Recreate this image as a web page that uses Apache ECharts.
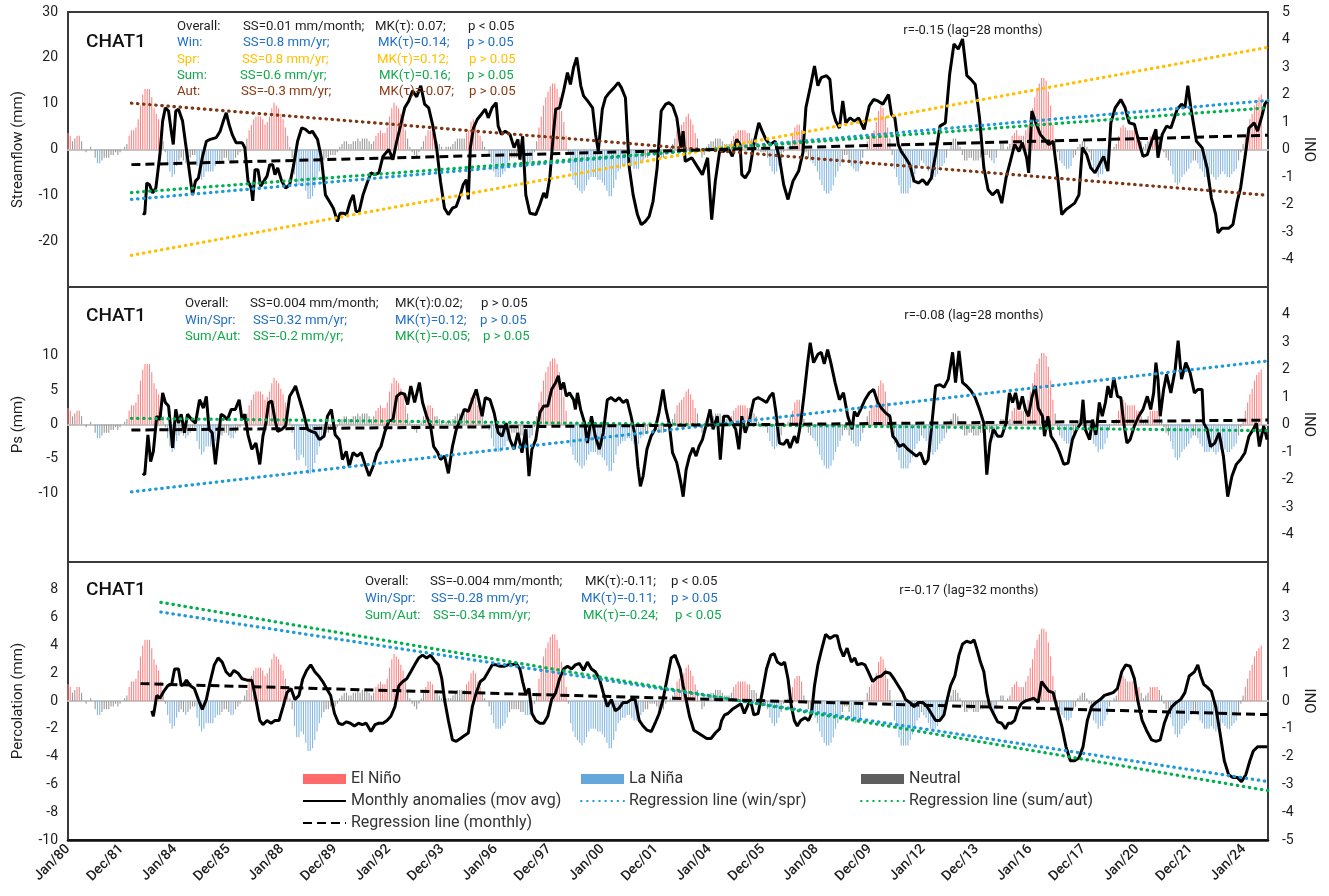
<!DOCTYPE html>
<html>
<head>
<meta charset="utf-8">
<title>CHAT1 – Streamflow, Ps and Percolation anomalies vs ONI</title>
<script src="https://cdn.jsdelivr.net/npm/echarts@6/dist/echarts.min.js"></script>
<style>
  html, body { margin: 0; padding: 0; background: #ffffff; }
  #chart { width: 1329px; height: 896px; }
</style>
</head>
<body>
<div id="chart"></div>
<script>
// ---------------------------------------------------------------------------
// Data (x = months since Jan 1980)
// ---------------------------------------------------------------------------
const siteName = 'CHAT1';

const tickLabels = ['Jan/80', 'Dec/81', 'Jan/84', 'Dec/85', 'Jan/88', 'Dec/89', 'Jan/92', 'Dec/93',
  'Jan/96', 'Dec/97', 'Jan/00', 'Dec/01', 'Jan/04', 'Dec/05', 'Jan/08', 'Dec/09', 'Jan/12',
  'Dec/13', 'Jan/16', 'Dec/17', 'Jan/20', 'Dec/21', 'Jan/24'];

// Oceanic Niño Index, one value per month from Jan 1980
const oni = [
  0.6, 0.5, 0.3, 0.4, 0.5, 0.5, 0.3, 0.0, -0.1, 0.0, 0.1, 0.0,          // 1980
  -0.3, -0.5, -0.5, -0.4, -0.3, -0.3, -0.3, -0.2, -0.2, -0.1, -0.2, -0.1, // 1981
  0.0, 0.1, 0.2, 0.5, 0.7, 0.7, 0.8, 1.1, 1.6, 2.0, 2.2, 2.2,           // 1982
  2.2, 1.9, 1.5, 1.3, 1.1, 0.7, 0.3, -0.1, -0.5, -0.8, -1.0, -0.9,      // 1983
  -0.6, -0.4, -0.3, -0.4, -0.5, -0.4, -0.3, -0.2, -0.2, -0.6, -0.9, -1.1, // 1984
  -1.0, -0.8, -0.8, -0.8, -0.8, -0.6, -0.5, -0.5, -0.4, -0.3, -0.3, -0.4, // 1985
  -0.5, -0.5, -0.3, -0.2, -0.1, 0.0, 0.2, 0.4, 0.7, 0.9, 1.1, 1.2,      // 1986
  1.2, 1.2, 1.1, 0.9, 1.0, 1.2, 1.5, 1.7, 1.6, 1.5, 1.3, 1.1,           // 1987
  0.8, 0.5, 0.1, -0.3, -0.9, -1.3, -1.3, -1.1, -1.2, -1.5, -1.8, -1.8,  // 1988
  -1.7, -1.4, -1.1, -0.8, -0.6, -0.4, -0.3, -0.3, -0.2, -0.2, -0.2, -0.1, // 1989
  0.1, 0.2, 0.3, 0.3, 0.2, 0.2, 0.3, 0.3, 0.4, 0.3, 0.4, 0.4,           // 1990
  0.4, 0.3, 0.2, 0.3, 0.5, 0.6, 0.7, 0.6, 0.6, 0.8, 1.2, 1.5,           // 1991
  1.7, 1.6, 1.5, 1.3, 1.1, 0.7, 0.4, 0.1, -0.1, -0.2, -0.3, -0.1,       // 1992
  0.1, 0.3, 0.5, 0.7, 0.7, 0.6, 0.3, 0.3, 0.2, 0.1, 0.0, 0.1,           // 1993
  0.1, 0.1, 0.2, 0.3, 0.4, 0.4, 0.4, 0.4, 0.6, 0.7, 1.0, 1.1,           // 1994
  1.0, 0.7, 0.5, 0.3, 0.1, 0.0, -0.2, -0.5, -0.8, -1.0, -1.0, -1.0,     // 1995
  -0.9, -0.8, -0.6, -0.4, -0.3, -0.3, -0.3, -0.3, -0.4, -0.4, -0.5, -0.5, // 1996
  -0.5, -0.4, -0.1, 0.3, 0.8, 1.2, 1.6, 1.9, 2.1, 2.3, 2.4, 2.4,        // 1997
  2.2, 1.9, 1.4, 1.0, 0.5, -0.1, -0.8, -1.1, -1.3, -1.4, -1.5, -1.6,    // 1998
  -1.5, -1.3, -1.1, -1.0, -1.0, -1.0, -1.1, -1.1, -1.2, -1.3, -1.5, -1.7, // 1999
  -1.7, -1.4, -1.1, -0.8, -0.7, -0.6, -0.6, -0.5, -0.5, -0.6, -0.7, -0.7, // 2000
  -0.7, -0.5, -0.4, -0.3, -0.3, -0.1, -0.1, -0.1, -0.2, -0.3, -0.3, -0.3, // 2001
  -0.1, 0.0, 0.1, 0.2, 0.4, 0.7, 0.8, 0.9, 1.0, 1.2, 1.3, 1.1,          // 2002
  0.9, 0.6, 0.4, 0.0, -0.3, -0.2, 0.1, 0.2, 0.3, 0.3, 0.4, 0.4,         // 2003
  0.4, 0.3, 0.2, 0.2, 0.2, 0.3, 0.5, 0.6, 0.7, 0.7, 0.7, 0.7,           // 2004
  0.6, 0.6, 0.4, 0.4, 0.3, 0.1, -0.1, -0.1, -0.1, -0.3, -0.6, -0.8,     // 2005
  -0.9, -0.8, -0.6, -0.4, -0.1, 0.0, 0.1, 0.3, 0.5, 0.8, 0.9, 0.9,      // 2006
  0.7, 0.2, -0.1, -0.3, -0.4, -0.5, -0.6, -0.8, -1.1, -1.3, -1.5, -1.6, // 2007
  -1.6, -1.5, -1.3, -1.0, -0.8, -0.6, -0.4, -0.2, -0.2, -0.4, -0.6, -0.7, // 2008
  -0.8, -0.8, -0.6, -0.3, 0.0, 0.3, 0.5, 0.6, 0.7, 1.0, 1.4, 1.6,       // 2009
  1.5, 1.2, 0.8, 0.4, -0.2, -0.7, -1.0, -1.3, -1.6, -1.6, -1.6, -1.6,   // 2010
  -1.4, -1.2, -0.9, -0.7, -0.6, -0.4, -0.5, -0.6, -0.8, -1.0, -1.1, -1.0, // 2011
  -0.9, -0.7, -0.6, -0.5, -0.3, 0.0, 0.2, 0.4, 0.4, 0.3, 0.1, -0.2,     // 2012
  -0.4, -0.4, -0.3, -0.3, -0.4, -0.4, -0.4, -0.3, -0.3, -0.2, -0.2, -0.3, // 2013
  -0.4, -0.5, -0.3, 0.0, 0.2, 0.2, 0.0, 0.1, 0.2, 0.5, 0.6, 0.7,        // 2014
  0.5, 0.5, 0.5, 0.7, 0.9, 1.2, 1.5, 1.9, 2.2, 2.4, 2.6, 2.6,           // 2015
  2.5, 2.1, 1.6, 0.9, 0.4, -0.1, -0.4, -0.5, -0.6, -0.7, -0.7, -0.6,    // 2016
  -0.3, -0.2, 0.1, 0.2, 0.3, 0.3, 0.1, -0.1, -0.4, -0.7, -0.8, -1.0,    // 2017
  -0.9, -0.9, -0.7, -0.5, -0.2, 0.0, 0.1, 0.2, 0.5, 0.8, 0.9, 0.8,      // 2018
  0.7, 0.7, 0.7, 0.7, 0.5, 0.5, 0.3, 0.1, 0.2, 0.3, 0.5, 0.5,           // 2019
  0.5, 0.5, 0.4, 0.2, -0.1, -0.3, -0.4, -0.6, -0.9, -1.2, -1.3, -1.2,   // 2020
  -1.0, -0.9, -0.8, -0.7, -0.5, -0.4, -0.4, -0.5, -0.7, -0.8, -1.0, -1.0, // 2021
  -1.0, -0.9, -1.0, -1.1, -1.0, -0.9, -0.8, -0.9, -1.0, -1.0, -0.9, -0.8, // 2022
  -0.7, -0.4, -0.1, 0.2, 0.5, 0.8, 1.1, 1.3, 1.6, 1.8, 1.9, 2.0         // 2023
];

// Streamflow monthly anomalies, moving average (mm), lagged 28 months
const streamflow = [
  [33,-13.9],[33.9,-14.1],[34.8,-7.3],[36,-7.7],[37.4,-9.5],[38.8,-8.4],[40.6,-1.1],[41.8,6.2],[43,9.1],[44.4,8.4],
  [45.8,3.3],[46.5,1.1],[47.6,8.4],[48.8,8.8],[50.6,6.2],[51.8,1.8],[53.2,-3.3],[55,-9.9],[56.3,-6.9],[57.6,-6.2],
  [59.3,-1.8],[61.1,1.8],[62.8,2.2],[65.5,2.6],[67.2,4.0],[68.6,6.2],[69.9,8.0],[71.1,5.5],[72.5,3.3],[74.2,1.5],
  [76.9,1.5],[78.1,0.4],[79.5,-6.9],[80.9,-8.4],[81.6,-11.2],[82.6,-4.4],[83.9,-4.4],[85.1,-8.0],[86.5,-6.9],[87.9,-5.8],
  [89.1,-3.3],[90.4,-3.3],[91.4,-5.5],[92.6,-4.0],[94.4,-6.9],[96.1,-8.4],[97.9,-7.7],[99.7,-3.3],[101.4,1.8],[103.2,4.7],
  [104.9,4.4],[106.7,3.6],[107.9,4.0],[110.2,2.2],[111.9,-1.8],[113.7,-9.9],[115.4,-11.3],[117.2,-12.8],[119,-15.7],[120.2,-13.9],
  [121.6,-13.9],[123,-14.2],[124.7,-11.3],[126,-9.9],[127.2,-13.5],[128.6,-13.5],[130.3,-9.9],[132.1,-7.3],[133.8,-5.1],[135.6,-5.5],
  [137.3,-5.1],[139.1,-1.5],[141.7,0],[143.5,-2.2],[145.2,1.8],[147,5.5],[148.7,9.1],[150.5,10.6],[152.2,12.8],[154,11.5],
  [155.8,13.9],[157.5,9.9],[159.3,9.1],[161,5.5],[162.8,0.4],[164.5,-6.9],[166.3,-12.8],[168,-14.2],[169.8,-12.8],[171.5,-12.4],
  [173.3,-9.9],[174.5,-7.7],[175.9,-6.6],[176.8,-10.9],[177.7,0.4],[179.1,4.7],[180.8,6.6],[182.6,7.7],[184.3,8.8],[185.6,6.9],
  [187.3,9.1],[189.1,10.2],[190,5.1],[191.4,3.3],[193.1,4.0],[195.2,3.3],[197,0.4],[198.7,2.2],[199.6,-2.2],[200.8,2.9],
  [202.2,-9.9],[204,-13.9],[206.6,-14.2],[208.4,-12.0],[210.1,-9.5],[211.3,-10.6],[212.8,-6.2],[214.1,1.8],[215.4,8.8],[217.1,9.1],
  [218.9,12.8],[220.6,16.8],[221.9,14.2],[223.3,17.9],[224.7,20.1],[226.5,13.9],[227.7,11.7],[229.5,10.6],[231.7,9.1],[233,3.3],
  [234.2,-0.4],[236,8.8],[237.4,11.3],[239.1,12.4],[241.2,13.5],[243,14.6],[244.4,13.5],[246.2,11.3],[247.9,-4.0],[249.6,-9.9],
  [251.5,-14.2],[253.2,-16.4],[255,-15.7],[256.7,-14.6],[258.4,-11.3],[260.2,-4.0],[262,8.4],[264,9.9],[265.4,10.2],[267.1,9.5],
  [268.9,6.9],[270.7,0.4],[271.7,4.0],[272.6,-2.6],[275.5,-1.8],[278.3,-4.0],[280.2,-5.5],[282.5,-1.8],[284.3,-15.3],[285.9,-6.9],
  [287.8,-0.4],[289.6,-0.4],[291.5,0.4],[293.4,-1.5],[295.3,2.2],[296.8,1.1],[297.6,-5.5],[299.1,-6.2],[301,-4.7],[302.9,1.1],
  [305.1,5.8],[306.6,4.0],[308.2,2.2],[310,1.1],[312.3,1.8],[314.2,-1.8],[316.1,-7.7],[318,-10.9],[320.2,-6.9],[322.7,-4.7],
  [324.6,-0.7],[325.9,9.1],[327.8,13.5],[329.7,18.2],[331.2,13.9],[332.7,15.7],[335,16.1],[336.5,15.3],[337.8,8.4],[339.1,6.2],
  [340.7,4.7],[342.2,10.6],[343.5,5.8],[345.4,6.9],[347.3,6.2],[349.2,6.9],[351.6,4.4],[353.9,9.5],[355.8,10.9],[357.7,10.6],
  [359.9,9.9],[362.4,12.0],[363.7,7.7],[365.2,6.9],[366.7,1.1],[368,-0.4],[369.9,-1.8],[371.8,-3.3],[373.7,-6.9],[375.6,-7.3],
  [377.5,-6.6],[379.4,-7.7],[381.3,-6.2],[383.2,-1.1],[385.1,5.1],[387.5,5.8],[389.4,16.4],[391.3,23.0],[393.2,21.9],[395.1,24.1],
  [397,16.1],[398.8,15.3],[400.7,14.2],[402.6,6.9],[404.5,-4.0],[406.4,-8.8],[408.3,-9.9],[410.6,-8.8],[412.4,-11.7],[414.3,-6.2],
  [416.2,-2.6],[418.1,1.1],[420,-0.4],[421.5,1.5],[423.4,-1.8],[424.3,-5.1],[425.7,8.4],[427.5,5.8],[429.4,3.3],[431.3,2.2],
  [433.2,1.1],[435.1,1.8],[437,-5.5],[438.9,-14.2],[440.8,-13.1],[442.7,-12.4],[444.6,-11.7],[446.5,-9.9],[448,0.4],[449.9,-1.1],
  [451.7,-4.0],[453.6,-5.1],[455.5,-3.3],[457.4,-1.5],[459.3,-4.7],[460.6,5.8],[462.5,9.1],[465,10.9],[466.9,9.1],[468.7,5.8],
  [471,5.5],[472.9,1.8],[474.8,-1.5],[476.7,-1.1],[478.6,1.8],[480.5,4.4],[481.4,-1.8],[483.3,3.3],[485.2,5.1],[487.1,4.7],
  [489.9,8.8],[491.8,9.9],[493.3,9.1],[494.6,13.9],[495.9,9.1],[498.4,1.8],[500.9,0.4],[503.1,-4.0],[505,-10.6],[506.9,-14.2],
  [507.9,-18.2],[509.7,-17.2],[512.6,-17.2],[514.5,-16.4],[516.4,-11.3],[517.9,-8.4],[519.8,-1.8],[521.6,4.7],[523.9,5.8],[525.4,4.0],
  [527.3,7.3],[528.6,9.9],[529.6,10.6]
];

// Ps monthly anomalies, moving average (mm), lagged 28 months
const ps = [
  [33,-7.1],[33.9,-7.3],[35.3,-1.5],[36.5,-5.4],[37.7,-3.9],[39.2,1.2],[40.6,0.7],[41.8,4.6],[43,3.2],[44.4,2.7],
  [46.2,-3.4],[47.6,2.2],[48.8,0.2],[50,1.5],[51.4,-1.2],[52.8,1.5],[54.6,0.7],[56.3,0.2],[58.1,3.6],[59.8,2.4],
  [61.1,4.1],[62.3,-0.7],[63.7,-1.2],[65.1,-5.8],[66.3,-2.2],[67.6,1.5],[69,1.2],[70.4,0.7],[72.1,2.2],[73.9,2.2],
  [75.6,3.6],[76.9,0.7],[78.1,1.5],[79.5,-1.5],[81.2,-3.6],[83,-2.7],[84.7,-5.8],[86.1,-1.7],[87.4,0.2],[88.6,3.2],
  [90,3.4],[91.4,0.7],[92.6,-1.0],[94.4,-0.7],[96.1,-0.2],[97.9,4.1],[99.7,5.1],[100.5,5.6],[102.3,3.6],[104,1.7],
  [105.8,-0.7],[107.5,-1.0],[109.3,-1.2],[111,-2.2],[113.1,-1.7],[114.6,1.2],[116.3,2.2],[118,-1.5],[119.8,-2.2],[121.2,-5.1],
  [122.9,-3.9],[124.2,-6.1],[125.9,-4.1],[127.7,-4.6],[129.5,-4.1],[131.2,-5.8],[133,-7.5],[134.7,-6.1],[136.5,-4.1],[138.2,-3.2],
  [140,-1.0],[141.7,0.5],[143.5,0.7],[145.2,4.1],[147,4.6],[148.7,4.4],[150,2.9],[151.4,5.6],[153.1,3.2],[155.2,6.1],
  [156.6,3.2],[158.4,1.2],[160.1,-0.2],[161.5,-3.2],[163.3,-4.1],[164.5,-5.1],[166.3,-4.6],[168,-7.1],[169.8,-3.2],[171.5,-0.7],
  [173.3,0.7],[175,2.2],[176.8,1.9],[178.6,3.6],[180.3,5.1],[181.5,3.4],[182.9,1.2],[184.3,3.9],[186.4,3.6],[188.2,1.7],
  [190,-1.2],[191.7,-1.7],[193.5,0.2],[195.2,-2.2],[197,-3.6],[198.7,-1.2],[200.5,-4.1],[202.2,-0.7],[203.6,-7.5],[204.9,-3.6],
  [206.6,-2.2],[208.4,1.7],[210.1,2.7],[211.9,2.7],[213.6,5.1],[215.4,6.1],[216.6,7.1],[217.6,5.1],[218.9,6.1],[220.1,4.1],
  [221.5,4.6],[223.3,3.6],[224.1,2.2],[225,4.6],[226.4,2.2],[228.2,0.2],[229.4,-2.7],[231.2,1.2],[232.9,-1.7],[234.7,-3.6],
  [236.4,-1.2],[238.2,3.6],[239.9,3.9],[241.7,3.4],[243.4,3.9],[245.2,3.2],[246.9,3.6],[248.7,1.2],[250.5,-1.7],[251.7,-6.1],
  [252.8,-9.0],[254,-7.5],[255.7,-3.6],[257.5,-1.7],[259.3,-0.7],[261,1.7],[262.8,5.1],[264.1,2.2],[265.5,0.2],[267,-4.1],
  [268.9,-5.6],[270.7,-8.5],[271.7,-10.5],[273,-6.6],[274.5,-4.6],[276,-3.4],[277.4,-4.6],[278.7,-3.2],[280.2,-2.2],[282.1,0.2],
  [283.6,2.2],[284.9,-0.7],[286.8,1.2],[288.1,-5.1],[289.6,1.2],[291.5,1.2],[293.4,0.2],[294.9,-0.7],[296.3,-3.6],[297.6,1.2],
  [299.1,-1.2],[301,0.7],[302.9,3.6],[304.8,3.9],[306.6,3.6],[308.5,3.2],[310,4.1],[311.4,4.6],[312.7,1.7],[314.2,-2.7],
  [316.1,-2.9],[317.6,-2.2],[318.9,-3.4],[320.8,-1.7],[322.1,-2.7],[323.6,0.2],[325.2,4.6],[326.5,8.5],[327.8,11.9],[329.3,9.0],
  [331.2,10.2],[332.7,10.5],[334,8.8],[335.5,10.9],[336.9,9.0],[338.8,6.1],[340.7,3.6],[342.5,4.6],[344.4,1.2],[346.3,-0.7],
  [347.3,1.9],[348.6,1.2],[350.1,2.2],[352,3.6],[353.9,4.6],[355.8,5.1],[357.7,3.2],[359.2,2.4],[361.1,1.7],[363,1.2],
  [364.3,-1.7],[365.6,-2.2],[367.1,-3.2],[369,-2.9],[370.9,-3.6],[372.8,-4.1],[374.7,-4.6],[376.5,-4.1],[378.4,-5.8],[379.9,-5.1],
  [381.3,-0.7],[383.2,5.6],[385.1,5.8],[386.9,5.4],[388.8,6.6],[390.7,10.5],[392,6.1],[393.5,10.7],[395.1,6.1],[396.9,5.6],
  [398.8,4.9],[400.7,3.9],[402.6,2.2],[404.5,0.2],[405.8,-7.3],[407.2,-2.7],[408.7,-0.7],[410.6,-1.7],[412.4,-1.7],[414.3,0.2],
  [415.8,4.6],[417.2,3.2],[418.5,4.6],[420,2.2],[421.5,4.1],[422.8,2.2],[424.2,1.2],[425.7,3.9],[427.2,5.6],[428.5,2.4],
  [430.4,1.2],[431.3,-1.7],[432.8,1.2],[434.2,-1.7],[436.1,-2.7],[438,-4.1],[439.8,-5.8],[441.7,-5.6],[443.6,-2.2],[445.5,-0.7],
  [447.4,0.2],[448.3,3.6],[449.3,-0.7],[451.2,-2.2],[452.5,0.7],[454,-1.5],[455.5,3.2],[456.8,1.2],[458.2,3.2],[459.3,5.6],
  [460.6,3.9],[461.9,6.8],[463.5,4.1],[465,3.9],[466.3,0.2],[467.7,-2.7],[469.1,-2.2],[471,-0.2],[472.9,1.2],[474.8,2.2],
  [476.7,4.1],[478.2,2.2],[479.5,4.6],[480.5,9.0],[481.4,6.6],[482.4,1.2],[483.9,5.1],[485.2,7.3],[487.1,4.6],[489,8.0],
  [490.3,12.2],[491.8,6.6],[493.7,9.0],[495.6,7.5],[497.5,4.6],[499,5.1],[500.9,5.1],[501.6,0.2],[503.1,-0.7],[504.6,-3.2],
  [506.5,-2.7],[508.4,-1.2],[510.3,-4.6],[512.2,-10.5],[514.1,-7.5],[516,-5.8],[517.9,-5.1],[519.8,-4.1],[521.6,-1.7],[523.5,-0.7],
  [524.9,0.2],[526.2,-3.2],[528.1,-0.2],[529.6,-2.2]
];

// Percolation monthly anomalies, moving average (mm), lagged 32 months
const percolation = [
  [37,-0.7],[37.7,-1.1],[39.2,0.4],[40.6,0.2],[42.3,0.7],[44.1,1.1],[45.8,1.2],[47.1,2.3],[48.8,2.3],[50,1.1],
  [51.1,1.2],[52.3,1.5],[54,1.1],[55.8,0.9],[57.6,0.1],[59.3,-0.6],[61.1,0.1],[62.8,1.4],[64.6,2.6],[66.3,3.1],
  [68.1,2.8],[69.8,2.1],[71.6,1.8],[73.3,2.2],[75.1,2.0],[76.9,1.6],[79.1,1.5],[81.2,1.5],[83,0.1],[84.7,-1.4],
  [86.1,-1.7],[87.9,-1.4],[89.7,-1.6],[91.4,-1.4],[93.2,-1.4],[95,-0.4],[96.7,0.6],[98.5,0.9],[100.2,0.1],[102,0.4],
  [103.7,1.6],[105.4,2.2],[107.2,2.6],[109,2.1],[110.7,1.8],[112.5,1.4],[114.2,0.9],[116,0.4],[117.7,-0.9],[119.5,-1.6],
  [121.2,-1.7],[123,-1.5],[124.7,-1.6],[126.5,-1.8],[128.3,-1.6],[130,-1.7],[131.7,-1.6],[133.8,-2.2],[135.6,-1.7],[137.3,-1.6],
  [139.1,-1.6],[140.9,-1.4],[142.6,-1.1],[144.4,-0.4],[146.1,1.1],[147.9,1.4],[149.6,1.6],[151.4,2.1],[153.1,2.6],[154.9,3.1],
  [156.6,3.3],[158.4,3.1],[160.1,3.3],[161.9,2.9],[163.6,2.6],[165.1,1.6],[166.3,0.1],[168,-1.4],[169.8,-2.8],[171.5,-2.9],
  [173.3,-2.7],[175,-2.5],[176.8,-2.3],[178.6,-0.4],[180.3,0.6],[182.1,1.4],[183.8,1.6],[185.6,2.1],[187.4,2.6],[189.1,2.6],
  [190.9,2.5],[192.6,2.5],[194.4,2.6],[196.1,2.6],[197.9,2.7],[199.6,2.3],[200.8,1.4],[202.2,0.5],[203.6,0.9],[204.9,-0.9],
  [206.6,-1.4],[208.4,-1.6],[210.1,-1.6],[211.9,-1.1],[213.6,0.1],[215.4,0.6],[217.1,1.6],[218.9,2.3],[220.6,2.5],[222.4,2.3],
  [224.1,2.6],[225.9,2.7],[227.7,2.2],[229.4,2.8],[231.2,2.3],[232.9,2.1],[234.7,1.6],[236.4,0.6],[238.2,-0.4],[240,0.1],
  [241.7,-0.7],[243.5,-0.5],[245.2,-0.1],[247,-0.1],[248.7,0.1],[250.5,0.1],[252.3,-1.4],[254,-1.8],[255.8,-2.1],[257.6,-2.2],
  [259.3,-1.6],[261.1,-0.9],[262.8,0.1],[264.6,1.6],[266.4,3.1],[268.1,3.3],[270.4,2.3],[271.7,1.1],[273,0.1],[274.5,-1.1],
  [276.4,-2.1],[278.3,-2.3],[280.2,-2.5],[282.1,-2.7],[284,-2.7],[285.9,-2.3],[287.8,-2.0],[288.7,-1.4],[290,-1.0],[291.5,-0.9],
  [293.4,-0.6],[295.3,-0.4],[297.2,-0.2],[298.7,-0.9],[300,-0.4],[301.4,0.1],[302.9,-1.0],[304.8,-0.9],[306.6,0.6],[308.5,2.3],
  [310.4,3.3],[311.9,3.4],[313.3,2.8],[315.1,2.6],[316.5,2.8],[318,1.6],[319.5,-0.4],[320.8,-1.4],[322.1,-1.8],[323.6,-1.4],
  [325.5,-1.2],[327.1,-1.4],[328.4,-0.9],[329.7,1.1],[331.2,2.6],[332.7,3.6],[334.6,4.8],[336.5,4.5],[338.4,4.7],[339.7,4.7],
  [341,3.8],[342.5,3.2],[344.1,3.8],[346,2.8],[347.5,3.1],[348.6,2.6],[350.5,2.7],[352,2.6],[353.5,2.1],[355.4,1.4],
  [357.3,1.7],[359.2,1.8],[361.1,2.1],[363,2.0],[364.8,1.6],[366.7,1.1],[368.6,0.6],[369.9,0.1],[371.8,-0.1],[373.7,-0.4],
  [375.6,-0.1],[377.5,-0.1],[379.4,-0.4],[381.3,-0.9],[383.2,-1.4],[385.1,-1.4],[386.9,-1.0],[388.3,0.1],[389.8,1.1],[391.7,1.8],
  [393.5,3.3],[395.1,4.1],[396.9,4.3],[398.8,4.2],[400.2,4.4],[401.5,3.7],[403,2.8],[404.5,2.1],[405.8,0.6],[407.2,-0.4],
  [408.7,-0.9],[410.6,-1.5],[412.4,-1.6],[414,-2.0],[415.3,-1.6],[416.6,-1.6],[418.1,-1.4],[419.6,-0.6],[421,-0.2],[422.8,0],
  [424.7,0.1],[426.6,0.2],[428.5,-0.1],[430,1.4],[431.3,1.1],[433.2,0.7],[435.1,0.6],[437,-0.6],[438.9,-1.8],[440.8,-3.3],
  [442.7,-4.3],[444.6,-4.3],[446.5,-4.1],[448.3,-3.3],[450.2,-1.4],[452.1,-0.4],[454,-0.1],[455.9,0.1],[457.8,0.4],[459.7,0.5],
  [461.6,0.6],[463.5,0.9],[465.4,2.1],[467.2,2.6],[469.1,2.5],[471,1.6],[472.4,0.1],[474.4,-1.4],[476.3,-2.1],[478.6,-2.8],
  [480.5,-2.9],[482.4,-2.8],[484.2,-1.6],[485.8,-0.9],[487.6,-0.4],[489.5,-0.1],[491.4,0.1],[493.3,0.6],[495.2,1.8],[497.5,2.1],
  [499,2.6],[500.3,1.8],[501.6,1.2],[503.1,1.0],[505,0.7],[506.9,-0.4],[508.8,-2.3],[510.7,-4.3],[512.6,-5.3],[514.5,-5.5],
  [516.4,-5.5],[518.3,-5.8],[520.2,-5.3],[522,-4.3],[523.5,-3.6],[525.4,-3.3],[527.7,-3.3],[529.6,-3.3]
];

// Linear trends: [month, value] at the start and end of each fit
const streamflowTrendMonthly = [[28, -3.3], [530, 3.1]];
const streamflowTrendWin = [[28, -10.9], [530, 10.7]];
const streamflowTrendSpr = [[28, -23.1], [530, 22.3]];
const streamflowTrendSum = [[28, -9.4], [530, 9.1]];
const streamflowTrendAut = [[28, 10.1], [530, -10.0]];

const psTrendMonthly = [[28, -0.8], [530, 0.64]];
const psTrendWinSpr = [[28, -9.8], [530, 9.25]];
const psTrendSumAut = [[28, 0.9], [530, -0.9]];

const percolationTrendMonthly = [[32, 1.25], [530, -0.98]];
const percolationTrendWinSpr = [[41, 6.4], [530, -5.8]];
const percolationTrendSumAut = [[41, 7.1], [530, -6.45]];

// Trend statistics printed in each panel
const streamflowStats = [
  ['Overall:', 'SS=0.01 mm/month;', 'MK(τ): 0.07;', 'p < 0.05'],
  ['Win:', 'SS=0.8 mm/yr;', 'MK(τ)=0.14;', 'p > 0.05'],
  ['Spr:', 'SS=0.8 mm/yr;', 'MK(τ)=0.12;', 'p > 0.05'],
  ['Sum:', 'SS=0.6 mm/yr;', 'MK(τ)=0.16;', 'p > 0.05'],
  ['Aut:', 'SS=-0.3 mm/yr;', 'MK(τ)=-0.07;', 'p > 0.05']
];
const psStats = [
  ['Overall:', 'SS=0.004 mm/month;', 'MK(τ):0.02;', 'p > 0.05'],
  ['Win/Spr:', 'SS=0.32 mm/yr;', 'MK(τ)=0.12;', 'p > 0.05'],
  ['Sum/Aut:', 'SS=-0.2 mm/yr;', 'MK(τ)=-0.05;', 'p > 0.05']
];
const percolationStats = [
  ['Overall:', 'SS=-0.004 mm/month;', 'MK(τ):-0.11;', 'p < 0.05'],
  ['Win/Spr:', 'SS=-0.28 mm/yr;', 'MK(τ)=-0.11;', 'p > 0.05'],
  ['Sum/Aut:', 'SS=-0.34 mm/yr;', 'MK(τ)=-0.24;', 'p < 0.05']
];
const correlationNotes = ['r=-0.15 (lag=28 months)', 'r=-0.08 (lag=28 months)', 'r=-0.17 (lag=32 months)'];

// ---------------------------------------------------------------------------
// Styling and layout
// ---------------------------------------------------------------------------
const FONT = 'Roboto, "Noto Sans", "DejaVu Sans", sans-serif';
const X_MAX = 530;
const PLOT_LEFT = 68, PLOT_WIDTH = 1200;
const TEXT = '#1e1e1e';
const C = {
  nino: '#FF8585', ninoKey: '#FF6B6B',
  nina: '#86B8E4', ninaKey: '#65A6DB',
  neutral: '#9A9A9A', neutralKey: '#5E5E5E',
  line: '#000000',
  blue: '#1E9AD8', green: '#00B050', amber: '#FFC000', brown: '#7E3512',
  txtBlue: '#2070C4', txtGreen: '#12A84C', txtAmber: '#FFC000', txtBrown: '#8A3A12'
};

const panels = [
  { top: 12, height: 275, name: 'Streamflow (mm)', min: -30, max: 30, interval: 10,
    leftShow: v => v > -30, rightShow: v => v > -5 },
  { top: 287, height: 275, name: 'Ps (mm)', min: -20, max: 20, interval: 5,
    leftShow: v => Math.abs(v) <= 10, rightShow: v => Math.abs(v) < 5 },
  { top: 562, height: 278, name: 'Percolation (mm)', min: -10, max: 10, interval: 2,
    leftShow: v => v < 10, rightShow: v => v < 5 }
];

function oniBars(test) {
  const out = [];
  oni.forEach((v, k) => { if (test(v)) out.push([k, v]); });
  return out;
}
const ninoBars = oniBars(v => v >= 0.5);
const ninaBars = oniBars(v => v <= -0.5);
const neutralBars = oniBars(v => v > -0.5 && v < 0.5);

const grid = [], xAxis = [], yAxis = [], series = [];

panels.forEach((p, i) => {
  grid.push({ left: PLOT_LEFT, width: PLOT_WIDTH, top: p.top, height: p.height,
    show: true, borderColor: '#3a3a3a', borderWidth: 2, backgroundColor: 'transparent' });

  xAxis.push({ type: 'value', gridIndex: i, min: 0, max: X_MAX, position: 'bottom',
    axisLine: { show: true, onZero: true, lineStyle: { color: '#c6c6c6', width: 2 } },
    axisTick: { show: false }, axisLabel: { show: false }, splitLine: { show: false } });

  yAxis.push({ type: 'value', gridIndex: i, position: 'left', min: p.min, max: p.max, interval: p.interval,
    axisLine: { show: false }, axisTick: { show: false }, splitLine: { show: false },
    axisLabel: { margin: 10, fontSize: 14, color: TEXT, fontFamily: FONT,
      formatter: v => (p.leftShow(v) ? String(v) : '') },
    name: p.name, nameLocation: 'middle', nameGap: 42, nameRotate: 90,
    nameTextStyle: { fontSize: 15, color: TEXT, fontFamily: FONT } });

  yAxis.push({ type: 'value', gridIndex: i, position: 'right', min: -5, max: 5, interval: 1,
    axisLine: { show: false }, axisTick: { show: false }, splitLine: { show: false },
    axisLabel: { margin: 14, fontSize: 14, color: TEXT, fontFamily: FONT,
      formatter: v => (p.rightShow(v) ? String(v) : '') },
    name: 'ONI', nameLocation: 'middle', nameGap: 30, nameRotate: 90,
    nameTextStyle: { fontSize: 15, color: TEXT, fontFamily: FONT } });

  const bar = (name, data, color) => ({
    name, type: 'bar', xAxisIndex: i, yAxisIndex: 2 * i + 1, data,
    barWidth: 1.1, barGap: '-100%', itemStyle: { color }, silent: true, z: 1
  });
  series.push(bar('El Niño', ninoBars, C.nino));
  series.push(bar('La Niña', ninaBars, C.nina));
  series.push(bar('Neutral', neutralBars, C.neutral));
});

// Bottom axis carrying the date labels
xAxis.push({ type: 'value', gridIndex: 2, min: 0, max: 22.45, interval: 1, position: 'bottom',
  axisLine: { show: true, onZero: false, lineStyle: { color: '#111', width: 2.5 } },
  axisTick: { show: false }, splitLine: { show: false },
  axisLabel: { rotate: 45, margin: 7, fontSize: 14, fontWeight: 500, color: TEXT, fontFamily: FONT,
    formatter: v => (Number.isInteger(v) && tickLabels[v] ? tickLabels[v] : '') } });

function lineSeries(name, panel, data, color, width, dash, z) {
  return {
    name, type: 'line', xAxisIndex: panel, yAxisIndex: 2 * panel, data,
    symbol: 'none', showSymbol: false, silent: true, z,
    lineStyle: Object.assign({ color, width, type: dash || 'solid' }, dash && dash[0] < 2 ? { cap: 'round' } : {}),
    itemStyle: { color }
  };
}
const DOT = [0.5, 5.6];
const DASH = [9, 5];

// Streamflow panel
series.push(lineSeries('Monthly anomalies (mov avg)', 0, streamflow, C.line, 3, null, 3));
series.push(lineSeries('Win', 0, streamflowTrendWin, C.blue, 3.2, DOT, 4));
series.push(lineSeries('Spr', 0, streamflowTrendSpr, C.amber, 3.2, DOT, 4));
series.push(lineSeries('Sum', 0, streamflowTrendSum, C.green, 3.2, DOT, 4));
series.push(lineSeries('Aut', 0, streamflowTrendAut, C.brown, 3.2, DOT, 4));
series.push(lineSeries('Regression line (monthly)', 0, streamflowTrendMonthly, C.line, 3, DASH, 5));

// Ps panel
series.push(lineSeries('Monthly anomalies (mov avg)', 1, ps, C.line, 3, null, 3));
series.push(lineSeries('Regression line (win/spr)', 1, psTrendWinSpr, C.blue, 3.2, DOT, 4));
series.push(lineSeries('Regression line (sum/aut)', 1, psTrendSumAut, C.green, 3.2, DOT, 4));
series.push(lineSeries('Regression line (monthly)', 1, psTrendMonthly, C.line, 3, DASH, 5));

// Percolation panel
series.push(lineSeries('Monthly anomalies (mov avg)', 2, percolation, C.line, 3, null, 3));
series.push(lineSeries('Regression line (win/spr)', 2, percolationTrendWinSpr, C.blue, 3.2, DOT, 4));
series.push(lineSeries('Regression line (sum/aut)', 2, percolationTrendSumAut, C.green, 3.2, DOT, 4));
series.push(lineSeries('Regression line (monthly)', 2, percolationTrendMonthly, C.line, 3, DASH, 5));

// ---------------------------------------------------------------------------
// Panel annotations
// ---------------------------------------------------------------------------
function label(x, y, text, fill, size, weight, align) {
  return { type: 'text', x, y, silent: true, z: 50,
    style: { text, fill, font: `${weight || 'normal'} ${size}px ${FONT}`,
      textAlign: align || 'left', textVerticalAlign: 'middle', align: align || 'left', verticalAlign: 'middle' } };
}

const statsLayout = [
  { rows: streamflowStats, ys: [27, 43, 60, 76, 92],
    colors: [TEXT, C.txtBlue, C.txtAmber, C.txtGreen, C.txtBrown],
    xs: [[177, 243, 375, 468], [177, 243, 378, 467], [177, 242, 377, 469], [177, 240, 379, 467], [177, 241, 379, 469]] },
  { rows: psStats, ys: [304, 320.5, 337], colors: [TEXT, C.txtBlue, C.txtGreen],
    xs: [[185, 250, 395, 481], [185, 253, 395, 480], [185, 253, 395, 483]] },
  { rows: percolationStats, ys: [582, 598.5, 615.5], colors: [TEXT, C.txtBlue, C.txtGreen],
    xs: [[365, 430, 585, 671], [365, 431, 581, 671], [365, 433, 583, 675]] }
];
const titleYs = [42, 316, 590];
const noteXY = [[973, 31], [974, 316], [969, 591]];

const graphic = [];
statsLayout.forEach((s, i) => {
  graphic.push(label(86, titleYs[i], siteName, '#111', 19, 500));
  s.rows.forEach((row, r) => {
    row.forEach((cell, c) => graphic.push(label(s.xs[r][c], s.ys[r], cell, s.colors[r], 13.2)));
  });
  graphic.push(label(noteXY[i][0], noteXY[i][1], correlationNotes[i], '#1e1e1e', 13, 'normal', 'center'));
});

// ---------------------------------------------------------------------------
// Legend (three columns inside the bottom panel)
// ---------------------------------------------------------------------------
const legendBase = {
  orient: 'vertical', top: 771, itemWidth: 43, itemHeight: 10, itemGap: 6, padding: 0,
  selectedMode: false,
  textStyle: { fontSize: 16, color: '#333', fontFamily: FONT, lineHeight: 16 }
};
// line keys: keep the stroke, hide the marker drawn in the middle of the key
const lineKey = name => ({ name, itemStyle: { opacity: 0 } });
const legend = [
  Object.assign({}, legendBase, { left: 302, data: [
    { name: 'El Niño', icon: 'rect', itemStyle: { color: C.ninoKey } },
    lineKey('Monthly anomalies (mov avg)'), lineKey('Regression line (monthly)')] }),
  Object.assign({}, legendBase, { left: 580, data: [
    { name: 'La Niña', icon: 'rect', itemStyle: { color: C.ninaKey } },
    lineKey('Regression line (win/spr)')] }),
  Object.assign({}, legendBase, { left: 860, data: [
    { name: 'Neutral', icon: 'rect', itemStyle: { color: C.neutralKey } },
    lineKey('Regression line (sum/aut)')] })
];

const chart = echarts.init(document.getElementById('chart'), null, { renderer: 'canvas' });
chart.setOption({
  animation: false,
  backgroundColor: '#ffffff',
  textStyle: { fontFamily: FONT },
  grid, xAxis, yAxis, series, legend, graphic
});
</script>
</body>
</html>
